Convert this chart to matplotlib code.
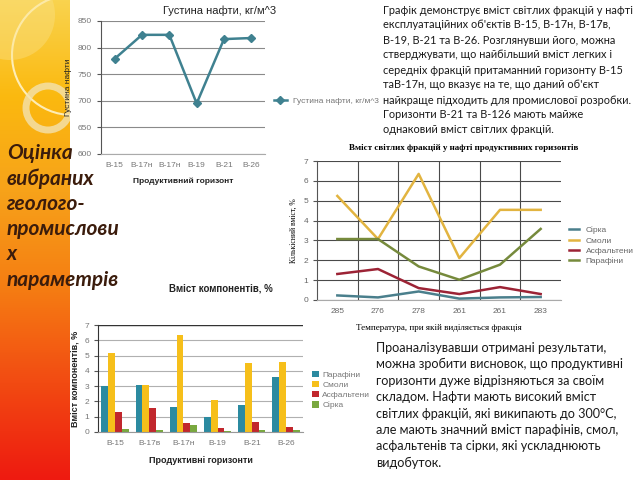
import numpy as np
import matplotlib
matplotlib.use("Agg")
import matplotlib.pyplot as plt
from matplotlib.colors import LinearSegmentedColormap
from matplotlib.patches import Circle

plt.rcParams['font.family'] = ['Liberation Sans', 'DejaVu Sans']

# --- дані ---
horizons_1 = ["B-15", "B-17н", "B-17н", "B-19", "B-21", "B-26"]
density = [779, 824, 824, 695, 816, 818]

temps = ["285", "276", "278", "261", "261", "283"]
line_names = ["Сірка", "Смоли", "Асфальтени", "Парафіни"]
sulfur = [0.23, 0.13, 0.43, 0.07, 0.13, 0.15]
resins = [5.24, 3.07, 6.35, 2.11, 4.54, 4.54]
asphalt = [1.31, 1.56, 0.60, 0.30, 0.65, 0.30]
paraffin = [3.07, 3.07, 1.69, 1.02, 1.78, 3.58]

horizons_3 = ["В-15", "В-17в", "В-17н", "В-19", "В-21", "В-26"]
bar_names = ["Парафіни", "Смоли", "Асфальтени", "Сірка"]
bar_paraffin = [3.0, 3.05, 1.65, 1.0, 1.75, 3.6]
bar_resins = [5.2, 3.05, 6.35, 2.1, 4.5, 4.55]
bar_asphalt = [1.3, 1.55, 0.6, 0.25, 0.65, 0.3]
bar_sulfur = [0.2, 0.1, 0.43, 0.07, 0.1, 0.12]

text_top = [
    "Графік демонструє вміст світлих фракцій у нафті",
    "експлуатаційних об'єктів В-15, В-17н, В-17в,",
    "В-19, В-21 та В-26. Розглянувши його, можна",
    "стверджувати, що найбільший вміст легких і",
    "середніх фракцій притаманний горизонту В-15",
    "таВ-17н, що вказує на те, що даний об'єкт",
    "найкраще підходить для промислової розробки.",
    "Горизонти В-21 та В-126 мають майже",
    "однаковий вміст світлих фракцій.",
]
text_bottom = [
    "Проаналізувавши отримані результати,",
    "можна зробити висновок, що продуктивні",
    "горизонти дуже відрізняються за своїм",
    "складом. Нафти мають високий вміст",
    "світлих фракцій, які википають до 300°C,",
    "але мають значний вміст парафінів, смол,",
    "асфальтенів та сірки, які ускладнюють",
    "видобуток.",
]
title_lines = ["Оцінка", "вибраних", "геолого-", "промислови", "х", "параметрів"]

W, H = 640, 480
fig = plt.figure(figsize=(6.4, 4.8), dpi=100)
fig.patch.set_facecolor("white")

def fx(px):
    return px / W

def fy(py):
    return 1 - py / H

# --- лівий кольоровий бік ---
band = fig.add_axes([0, 0, fx(70), 1])
cmap = LinearSegmentedColormap.from_list(
    "band", ["#f9d34e", "#fbb90f", "#f7a21a", "#f57d12", "#f24a12", "#ee1a10"])
grad = np.linspace(0, 1, 256).reshape(-1, 1)
band.imshow(grad, aspect="auto", cmap=cmap, extent=[0, 70, 480, 0])
band.add_patch(Circle((72, 55), 60, fill=False, ec="#fff3c8", lw=1.5, alpha=0.9))
band.add_patch(Circle((48, 108), 22, fill=False, ec="#f3e2b0", lw=5, alpha=0.8))
band.add_patch(Circle((10, 15), 45, fc="#fae28a", ec="none", alpha=0.4))
band.set_xlim(0, 70)
band.set_ylim(480, 0)
band.axis("off")

for i, s in enumerate(title_lines):
    fig.text(fx(7), fy(153 + i * 25.3), s, fontsize=15, fontweight="bold", style="italic",
             color="#3b1c0c", family=["Lato", "DejaVu Sans"], va="center")

# --- графік 1: густина нафти ---
ax1 = fig.add_axes([fx(101), fy(154), fx(164), 133 / H])
x1 = np.arange(len(density))
ax1.plot(x1, density, color="#3f8190", lw=1.8, marker="D", ms=4, label="Густина нафти, кг/м^3")
ax1.set_xlim(-0.5, 5.5)
ax1.set_ylim(600, 850)
ax1.set_yticks(range(600, 851, 50))
ax1.set_xticks(x1)
ax1.set_xticklabels(horizons_1)
ax1.yaxis.grid(True, color="#8a8a8a", lw=0.8)
ax1.set_axisbelow(True)
for s in ["top", "right"]:
    ax1.spines[s].set_visible(False)
ax1.spines["left"].set_color("#555555")
ax1.spines["bottom"].set_color("#aaaaaa")
ax1.tick_params(axis="y", labelsize=6, colors="#555555", length=3, labelcolor="#777777")
ax1.tick_params(axis="x", labelsize=6, length=0, labelcolor="#777777", pad=6)
ax1.set_title("Густина нафти, кг/м^3", fontsize=8, x=0.72, pad=5, color="#222222")
ax1.set_xlabel("Продуктивний горизонт", fontsize=6, fontweight="bold", labelpad=6, color="#222222")
ax1.set_ylabel("Густина нафти", fontsize=6, labelpad=4, color="#222222")
ax1.legend(loc="center left", bbox_to_anchor=(fx(270), fy(101)), bbox_transform=fig.transFigure,
           frameon=False, fontsize=6, handlelength=1.5, labelcolor="#777777", borderpad=0)

# --- графік 2: вміст світлих фракцій ---
ax2 = fig.add_axes([fx(317), fy(300), fx(244), 139 / H])
x2 = np.arange(len(temps))
series2 = [sulfur, resins, asphalt, paraffin]
colors2 = ["#4a7f8c", "#e2b440", "#9c2335", "#768a3c"]
for vals, name, c in zip(series2, line_names, colors2):
    ax2.plot(x2, vals, color=c, lw=1.8, label=name)
ax2.set_xlim(-0.5, 5.5)
ax2.set_ylim(0, 7)
ax2.set_yticks(range(0, 8))
ax2.set_xticks(x2)
ax2.set_xticklabels(temps)
ax2.set_xticks(np.arange(0.5, 5, 1), minor=True)
ax2.yaxis.grid(True, color="#4a4a4a", lw=0.8)
ax2.xaxis.grid(True, which="minor", color="#4a4a4a", lw=0.8)
ax2.set_axisbelow(True)
for s in ["top", "right"]:
    ax2.spines[s].set_visible(False)
ax2.spines["left"].set_color("#555555")
ax2.spines["bottom"].set_color("#aaaaaa")
ax2.tick_params(axis="y", labelsize=6, labelcolor="#666666", length=3, colors="#555555")
ax2.tick_params(axis="x", which="both", length=0, labelsize=6, labelcolor="#666666", pad=6)
ax2.set_title("Вміст світлих фракцій у нафті продуктивних горизонтів", fontsize=6.5,
              fontweight="bold", family="Liberation Serif", x=0.6, pad=8)
ax2.set_xlabel("Температура, при якій виділяється фракція", fontsize=6.5,
               family="Liberation Serif", labelpad=6)
ax2.set_ylabel("Кількісний вміст, %", fontsize=5.5, family="Liberation Serif", labelpad=4)
ax2.legend(loc="center left", bbox_to_anchor=(fx(565), fy(246)), bbox_transform=fig.transFigure,
           frameon=False, fontsize=6, handlelength=1.2, labelcolor="#666666",
           borderpad=0, labelspacing=0.3)

# --- графік 3: вміст компонентів ---
ax3 = fig.add_axes([fx(98), fy(432), fx(205), 107 / H])
x3 = np.arange(len(horizons_3))
series3 = [bar_paraffin, bar_resins, bar_asphalt, bar_sulfur]
colors3 = ["#2b8aa0", "#f6bf1a", "#c1272d", "#79a83f"]
bw = 0.2
for k, (vals, name, c) in enumerate(zip(series3, bar_names, colors3)):
    ax3.bar(x3 + (k - 1.5) * bw, vals, width=bw, color=c, label=name)
ax3.set_xlim(-0.5, 5.5)
ax3.set_ylim(0, 7)
ax3.set_yticks(range(0, 8))
ax3.set_xticks(x3)
ax3.set_xticklabels(horizons_3)
ax3.yaxis.grid(True, color="#b0b0b0", lw=0.8)
ax3.set_axisbelow(True)
for s in ["top", "right"]:
    ax3.spines[s].set_visible(False)
ax3.spines["left"].set_color("#333333")
ax3.spines["bottom"].set_color("#999999")
ax3.axhline(7, color="#333333", lw=1)
ax3.tick_params(axis="y", labelsize=6, labelcolor="#777777", length=3, colors="#555555")
ax3.tick_params(axis="x", length=0, labelsize=6, labelcolor="#777777", pad=6)
ax3.set_title("Вміст компонентів, %", fontsize=7, fontweight="bold", x=0.6, pad=24, color="#222222")
ax3.set_xlabel("Продуктивні горизонти", fontsize=6.5, fontweight="bold", labelpad=6, color="#222222")
ax3.set_ylabel("Вміст компонентів, %", fontsize=6.5, fontweight="bold", labelpad=3, color="#222222")
ax3.legend(loc="center left", bbox_to_anchor=(fx(308), fy(390)), bbox_transform=fig.transFigure,
           frameon=False, fontsize=6, handlelength=0.8, handleheight=0.8, labelcolor="#777777",
           borderpad=0, labelspacing=0.25, handletextpad=0.4)

# --- тексти ---
for i, s in enumerate(text_top):
    fig.text(fx(383), fy(10 + i * 15), s, fontsize=7.9, color="#1a1a1a",
             family=["Lato", "DejaVu Sans"], va="center")
for i, s in enumerate(text_bottom):
    fig.text(fx(376), fy(348 + i * 16.4), s, fontsize=9.1, color="#1a1a1a",
             family=["Lato", "DejaVu Sans"], va="center")

fig.savefig("out.png", dpi=100)
